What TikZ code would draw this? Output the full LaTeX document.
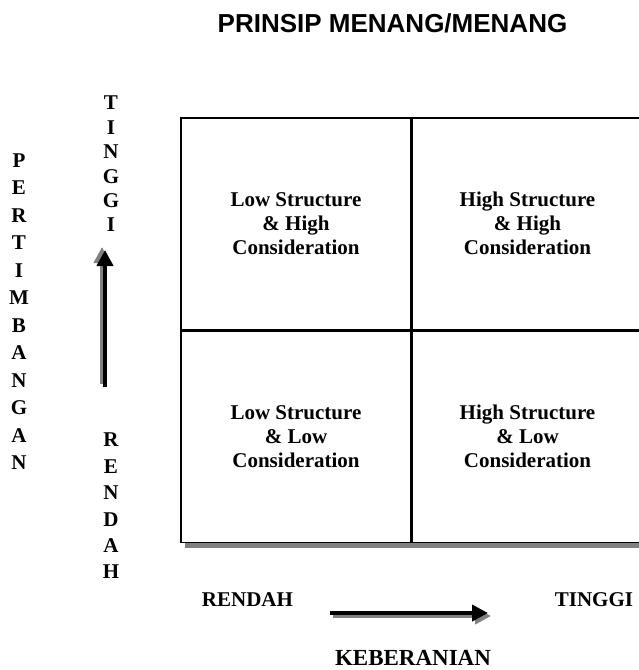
\documentclass[tikz,border=0pt]{standalone}
\usepackage{fontspec}
\setmainfont{Liberation Serif}
\newfontfamily\headfont{Liberation Sans}
\usetikzlibrary{arrows.meta,positioning,backgrounds}

\begin{document}
\begin{tikzpicture}[
    x=1pt, y=-1pt,
    node distance=0pt,
    cell/.style={rectangle, draw, line width=1.5pt, fill=white, minimum width=230pt, minimum height=211.5pt, align=center,
        font=\bfseries\fontsize{21}{24}\selectfont},
    axislabel/.style={font=\bfseries\fontsize{21}{24}\selectfont},
    letters/.style={align=center, inner sep=0pt, font=\bfseries\fontsize{21}{#1}\selectfont},
    bigarrow/.style={-{Triangle[length=16pt,width=16pt]}, line width=4pt},
    arrowshade/.style={bigarrow, black!50}
]
    \useasboundingbox (0,0) rectangle (638,670);

    \node[font=\headfont\bfseries\fontsize{26}{30}\selectfont, anchor=base] (title) at (392.5,32) {PRINSIP MENANG/MENANG};

    \node[cell] (LH) at (296,223.5) {Low Structure\\\& High\\Consideration};
    \node[cell, right=of LH] (HH) {High Structure\\\& High\\Consideration};
    \node[cell, below=of LH] (LL) {Low Structure\\\& Low\\Consideration};
    \node[cell, right=of LL] (HL) {High Structure\\\& Low\\Consideration};

    \begin{scope}[on background layer]
        \fill[black!50] ([shift={(5,5)}]LH.north west) rectangle ([shift={(5,5)}]HL.south east);
    \end{scope}

    \node[letters=27.5] (yname) at (19,311.5) {P\\E\\R\\T\\I\\M\\B\\A\\N\\G\\A\\N};
    \node[letters=24.4] (yhigh) at (111,164) {T\\I\\N\\G\\G\\I};
    \node[letters=26.4] (ylow) at (111,506) {R\\E\\N\\D\\A\\H};

    \node[axislabel, anchor=base] (xlow) at (247.5,606.5) {RENDAH};
    \node[axislabel, anchor=base] (xhigh) at (594,606.5) {TINGGI};
    \node[axislabel, font=\bfseries\fontsize{23}{26}\selectfont, anchor=base] (xname) at (413,665) {KEBERANIAN};

    \coordinate (vtail) at (105,387);
    \coordinate (vtip) at (105,250);
    \coordinate (htail) at (330,613);
    \coordinate (htip) at (488,613);

    \draw[arrowshade] ([shift={(-3,-3)}]vtail) -- ([shift={(-3,-3)}]vtip);
    \draw[bigarrow] (vtail) -- (vtip);
    \draw[arrowshade] ([shift={(3,3)}]htail) -- ([shift={(3,3)}]htip);
    \draw[bigarrow] (htail) -- (htip);
\end{tikzpicture}
\end{document}
